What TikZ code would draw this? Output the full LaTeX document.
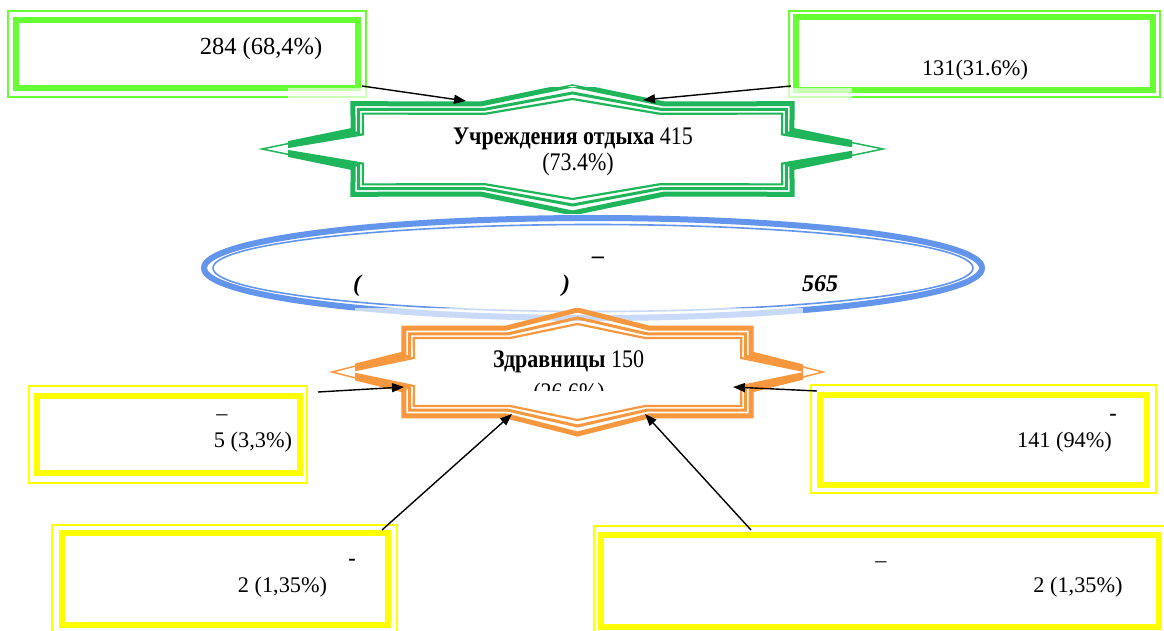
\documentclass[tikz,border=0pt]{standalone}
\usepackage{fontspec}
\setmainfont{Liberation Serif}
\usetikzlibrary{arrows.meta,shapes.geometric}
\definecolor{boxgreen}{HTML}{66FF33}
\definecolor{starg}{HTML}{1FB55A}
\definecolor{staro}{HTML}{F7983F}
\definecolor{ellb}{HTML}{6495ED}
\definecolor{boxy}{HTML}{FFFF00}
% star8 outline: cx cy rx ry options
\newcommand\drawstar[5]{\draw[#5] plot[samples at={0,1,...,15}] ({#1+(#3)*(1-0.235*mod(\x,2))*cos(\x*22.5)},{#2-(#4)*(1-0.235*mod(\x,2))*sin(\x*22.5)}) -- cycle;}
\newcommand\triplestar[5]{%
  \drawstar{#1}{#2}{#3}{#4}{draw=#5,line width=5pt}
  \drawstar{#1}{#2}{#3-8}{#4-8}{draw=#5,line width=3pt}
  \drawstar{#1}{#2}{#3-14}{#4-14}{draw=#5,line width=2.2pt}}
\newcommand\tallbox[1]{\scalebox{1}[1.15]{#1}}
\tikzset{
  thickbox/.style={draw=#1, line width=6.5pt, inner sep=0pt, outer sep=0pt, rectangle},
  thinbox/.style={draw=#1, line width=1.5pt},
  boxtxt/.style={font=\fontsize{22.3}{26}\selectfont, anchor=base, inner sep=0pt},
  startxt/.style={font=\fontsize{22}{26}\selectfont, anchor=base, inner sep=0pt},
  elltxt/.style={font=\fontsize{24}{28}\selectfont\bfseries\itshape, anchor=base, inner sep=0pt},
  arr/.style={draw=black, line width=1.4pt, -{Triangle[length=12pt,width=9pt]}},
  veil/.style={fill=white, fill opacity=0.65, draw=none}
}
\begin{document}
\begin{tikzpicture}[x=1pt,y=-1pt]
\useasboundingbox (0,0) rectangle (1164,631);
\clip (0,0) rectangle (1164,631);
\fill[white] (0,0) rectangle (1164,631);
% green boxes
\draw[thinbox=boxgreen] (8,11) rectangle (366,97);
\node[thickbox=boxgreen, minimum width=342pt, minimum height=68pt] (bA) at (187,54) {};
\draw[thinbox=boxgreen] (789,11) rectangle (1160,97);
\node[thickbox=boxgreen, minimum width=357pt, minimum height=73pt] (bB) at (974.5,53.5) {};
% yellow boxes
\draw[thinbox=boxy] (29,386) rectangle (307,483);
\node[thickbox=boxy, minimum width=263pt, minimum height=77pt] (yL) at (168.5,434.5) {};
\draw[thinbox=boxy] (811,385) rectangle (1156,493);
\node[thickbox=boxy, minimum width=327pt, minimum height=90pt] (yR) at (983.5,440) {};
\draw[thinbox=boxy] (52,525) rectangle (397,645);
\node[thickbox=boxy, minimum width=326pt, minimum height=92pt] (yBL) at (225,579) {};
\draw[thinbox=boxy] (594,526) rectangle (1175,645);
\node[thickbox=boxy, minimum width=558pt, minimum height=92pt] (yBR) at (880,581) {};
% blue ellipse
\node[ellipse, draw=ellb, line width=6pt, minimum width=778pt, minimum height=100pt, inner sep=0pt] (ell) at (593,268) {};
\node[ellipse, draw=ellb, line width=1.6pt, minimum width=760pt, minimum height=87pt, inner sep=0pt] (ellin) at (593,268) {};
% green star
\drawstar{572.5}{149}{310.5}{64}{draw=starg,line width=1.5pt}
\begin{scope}
\clip (288,88) rectangle (852,214);
\fill[veil] (288,88) rectangle (852,214);
\triplestar{572.5}{149}{310.5}{64}{starg}
\end{scope}
% orange star
\drawstar{577.5}{372}{245.5}{62}{draw=staro,line width=1.5pt}
\begin{scope}
\clip (355,308) rectangle (803,437);
\fill[veil] (355,308) rectangle (803,437);
\triplestar{577.5}{372}{245.5}{62}{staro}
\end{scope}
% texts
\node[boxtxt, font=\fontsize{24.5}{28}\selectfont] (tA) at (261,55) {284 (68,4\%)};
\node[boxtxt] (tB) at (975,76) {131(31.6\%)};
\node[startxt] (g1) at (573,145) {\tallbox{\textbf{Учреждения отдыха} 415}};
\node[startxt] (g2) at (578,171) {\tallbox{(73.4\%)}};
\node[startxt] (o1) at (568.5,367) {\tallbox{\textbf{Здравницы} 150}};
\begin{scope}
\clip (400,300) rectangle (760,390);
\node[startxt] (o2) at (569,400) {\tallbox{(26.6\%)}};
\end{scope}
\node[elltxt] (e0) at (598,263) {–};
\node[elltxt] (e1) at (357,291) {(};
\node[elltxt] (e2) at (566,291) {)};
\node[elltxt] (e3) at (820,291) {565};
\node[boxtxt] (yLd) at (222,420) {–};
\node[boxtxt] (yLt) at (253,447) {5 (3,3\%)};
\node[boxtxt, font=\fontsize{22.3}{26}\selectfont\bfseries] (yRd) at (1113,420) {-};
\node[boxtxt] (yRt) at (1064.5,447) {141 (94\%)};
\node[boxtxt, font=\fontsize{22.3}{26}\selectfont\bfseries] (yBLd) at (352,565) {-};
\node[boxtxt] (yBLt) at (282.5,592) {2 (1,35\%)};
\node[boxtxt] (yBRd) at (881,567) {–};
\node[boxtxt] (yBRt) at (1078,592) {2 (1,35\%)};
% arrows
\coordinate (s1) at (362,86);  \coordinate (t1) at (466,101);
\coordinate (s2) at (791,86);  \coordinate (t2) at (643,100);
\coordinate (s3) at (318,392); \coordinate (t3) at (404,387);
\coordinate (s4) at (817,391); \coordinate (t4) at (733,387);
\coordinate (s5) at (382,530); \coordinate (t5) at (512,414);
\coordinate (s6) at (751,530); \coordinate (t6) at (645,414);
\foreach \i in {1,...,6} {\draw[arr] (s\i) -- (t\i);}
\end{tikzpicture}
\end{document}
